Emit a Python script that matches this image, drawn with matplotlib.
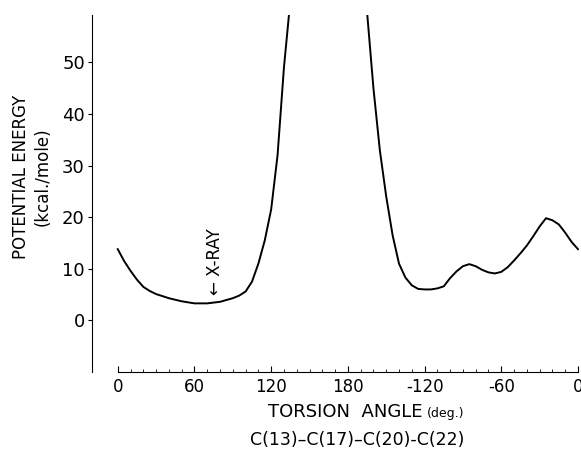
import numpy as np
import matplotlib
matplotlib.use('Agg')
import matplotlib.pyplot as plt

# torsion angle (deg, 0..360) and potential energy (kcal/mole)
angle = [0, 5, 10, 15, 20, 25, 30, 40, 50, 60, 70, 80, 90, 95, 100, 105,
         110, 115, 120, 125, 130, 135, 140, 160, 180, 190,
         195, 200, 205, 210, 215, 220, 225, 230, 235, 240, 245, 250, 255,
         260, 265, 270, 275, 280, 285, 290, 295, 300, 305, 310, 315, 320,
         325, 330, 335, 340, 345, 350, 355, 360]
energy = [13.8, 11.5, 9.6, 7.9, 6.5, 5.7, 5.1, 4.3, 3.7, 3.3, 3.3, 3.6, 4.3, 4.8, 5.6, 7.5,
          11.0, 15.5, 21.5, 32.0, 49.0, 62.0, 90.0, 150.0, 150.0, 80.0,
          59.8, 45.0, 33.0, 24.0, 16.5, 11.0, 8.3, 6.8, 6.1, 6.0, 6.0, 6.2, 6.6,
          8.2, 9.5, 10.5, 10.9, 10.5, 9.8, 9.3, 9.1, 9.4, 10.3, 11.6, 13.0, 14.5,
          16.3, 18.2, 19.8, 19.4, 18.6, 17.0, 15.2, 13.8]

xticks = [0, 60, 120, 180, 240, 300, 360]
xticklabels = ['0', '60', '120', '180', '-120', '-60', '0']
yticks = [0, 10, 20, 30, 40, 50]
xray_angle = 76

fig = plt.figure(figsize=(5.81, 4.65), dpi=100)
ax = fig.add_axes([0.158, 0.2, 0.839, 0.768])

ax.plot(angle, energy, color='black', lw=1.4)

ax.set_xlim(-20.3, 361)
ax.set_ylim(-10, 59.2)

for s in ['top', 'right']:
    ax.spines[s].set_visible(False)
ax.spines['bottom'].set_bounds(0, 360)

ax.set_xticks(xticks)
ax.set_xticklabels(xticklabels)
ax.set_xticks(np.arange(0, 361, 10), minor=True)
ax.set_yticks(yticks)
ax.tick_params(axis='x', direction='in', length=4, pad=4, labelsize=12)
ax.tick_params(axis='x', which='minor', direction='in', length=2.5)
ax.tick_params(axis='y', direction='out', length=3, pad=2, labelsize=13)

# axis titles
fig.text(0.036, 0.619, 'POTENTIAL ENERGY', rotation=90, ha='center', va='center', fontsize=12)
fig.text(0.073, 0.619, '(kcal./mole)', rotation=90, ha='center', va='center', fontsize=12)
fig.text(0.727, 0.114, 'TORSION  ANGLE', ha='right', va='center', fontsize=13)
fig.text(0.735, 0.111, '(deg.)', ha='left', va='center', fontsize=9)
fig.text(0.614, 0.054, 'C(13)\u2013C(17)\u2013C(20)-C(22)', ha='center', va='center', fontsize=12.5)

# x-ray marker
ax.text(xray_angle, 5.0, '\u2190 X-RAY', rotation=90, ha='center', va='bottom', fontsize=12)

fig.savefig('out.png', dpi=100)
